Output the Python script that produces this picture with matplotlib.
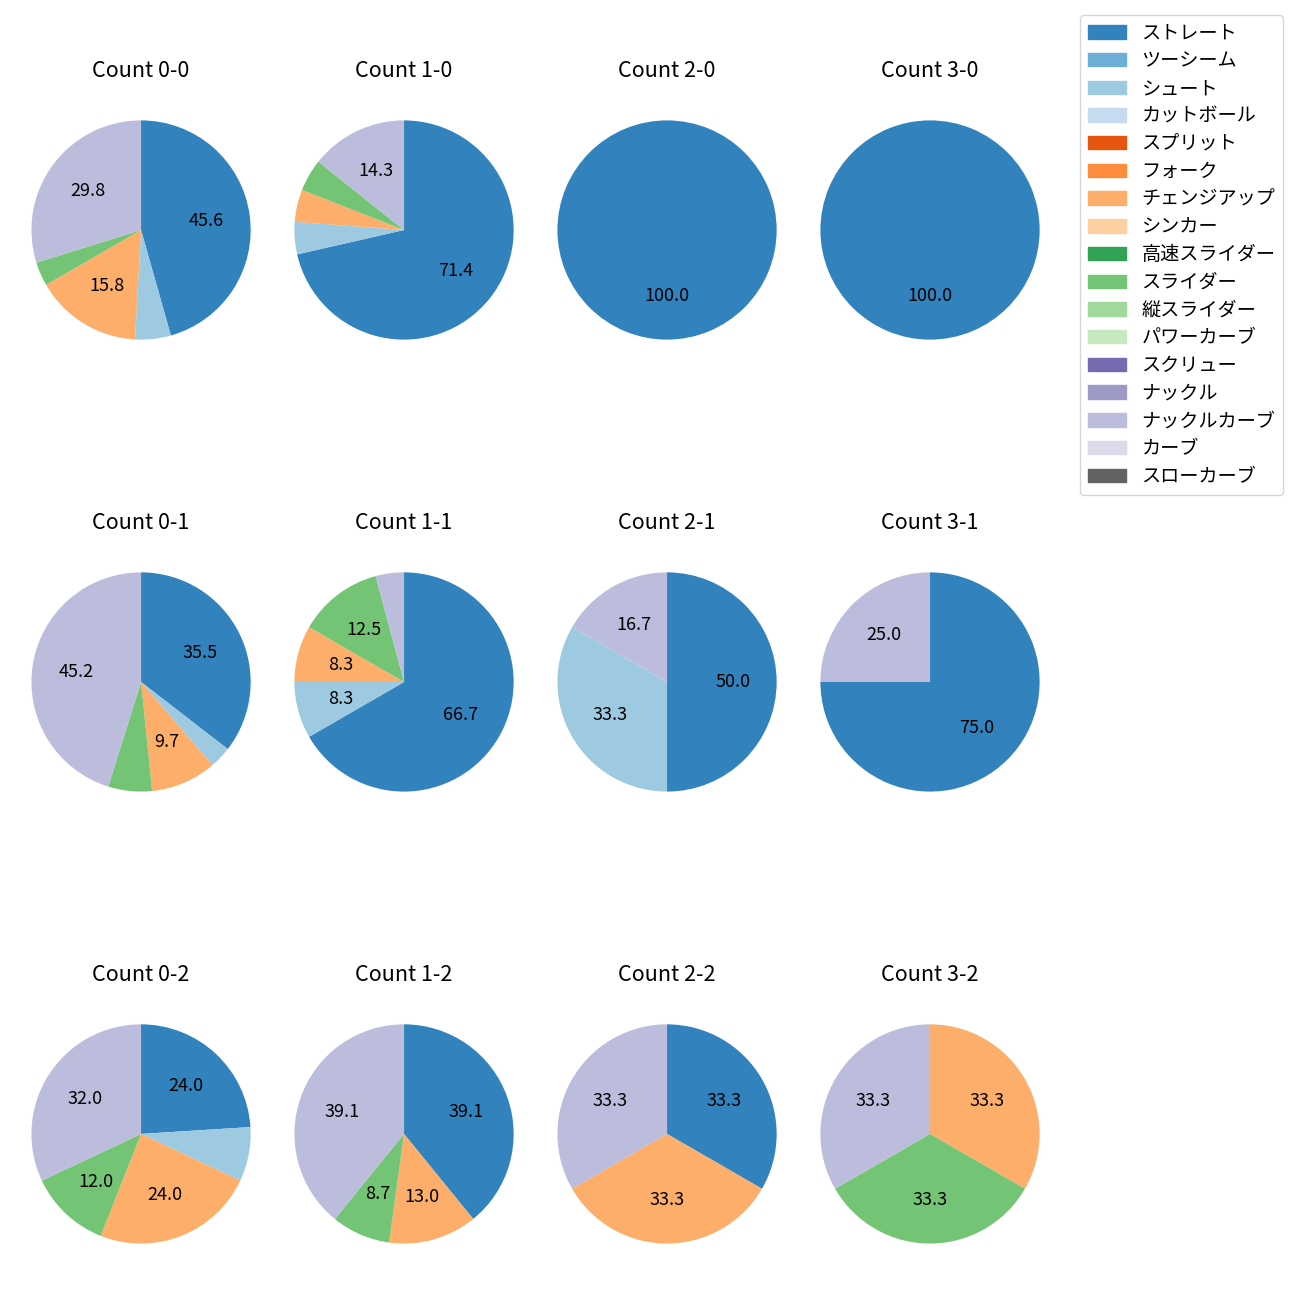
import matplotlib.pyplot as plt
from matplotlib.patches import Patch

plt.rcParams['font.family'] = ['Noto Sans CJK JP', 'DejaVu Sans']

# 球種と色 (tab20c 系)
pitch_types = ['ストレート', 'ツーシーム', 'シュート', 'カットボール', 'スプリット', 'フォーク',
               'チェンジアップ', 'シンカー', '高速スライダー', 'スライダー', '縦スライダー',
               'パワーカーブ', 'スクリュー', 'ナックル', 'ナックルカーブ', 'カーブ', 'スローカーブ']
pitch_colors = ['#3182bd', '#6baed6', '#9ecae1', '#c6dbef', '#e6550d', '#fd8d3c',
                '#fdae6b', '#fdd0a2', '#31a354', '#74c476', '#a1d99b', '#c7e9c0',
                '#756bb1', '#9e9ac8', '#bcbddc', '#dadaeb', '#636363']

# カウント別の投球数 (球種名: 球数)
count_labels = ['0-0', '1-0', '2-0', '3-0',
                '0-1', '1-1', '2-1', '3-1',
                '0-2', '1-2', '2-2', '3-2']
count_00 = {'ストレート': 26, 'シュート': 3, 'チェンジアップ': 9, 'スライダー': 2, 'ナックルカーブ': 17}
count_10 = {'ストレート': 15, 'シュート': 1, 'チェンジアップ': 1, 'スライダー': 1, 'ナックルカーブ': 3}
count_20 = {'ストレート': 3}
count_30 = {'ストレート': 2}
count_01 = {'ストレート': 11, 'シュート': 1, 'チェンジアップ': 3, 'スライダー': 2, 'ナックルカーブ': 14}
count_11 = {'ストレート': 16, 'シュート': 2, 'チェンジアップ': 2, 'スライダー': 3, 'ナックルカーブ': 1}
count_21 = {'ストレート': 3, 'シュート': 2, 'ナックルカーブ': 1}
count_31 = {'ストレート': 3, 'ナックルカーブ': 1}
count_02 = {'ストレート': 6, 'シュート': 2, 'チェンジアップ': 6, 'スライダー': 3, 'ナックルカーブ': 8}
count_12 = {'ストレート': 9, 'チェンジアップ': 3, 'スライダー': 2, 'ナックルカーブ': 9}
count_22 = {'ストレート': 1, 'チェンジアップ': 1, 'ナックルカーブ': 1}
count_32 = {'チェンジアップ': 1, 'スライダー': 1, 'ナックルカーブ': 1}
count_data = [count_00, count_10, count_20, count_30,
              count_01, count_11, count_21, count_31,
              count_02, count_12, count_22, count_32]

color_map = dict(zip(pitch_types, pitch_colors))


def pct_label(pct):
    return f'{pct:.1f}' if pct > 8.1 else ''


fig, axes = plt.subplots(3, 4, figsize=(13, 13), dpi=100)
fig.subplots_adjust(left=0.0081, right=0.8158, bottom=0.0162, top=0.9346,
                    wspace=0.0075, hspace=0.5586)

for ax, label, data in zip(axes.flat, count_labels, count_data):
    names = list(data.keys())
    values = list(data.values())
    ax.pie(values, colors=[color_map[n] for n in names], startangle=90,
           counterclock=False, autopct=pct_label, radius=0.945,
           textprops={'fontsize': 13})
    ax.set_aspect('equal', adjustable='datalim')
    ax.set_title(f'Count {label}', fontsize=15.5)

handles = [Patch(color=c, label=n) for n, c in zip(pitch_types, pitch_colors)]
fig.legend(handles=handles, loc='upper right', bbox_to_anchor=(0.987, 0.9885),
           fontsize=13.8, labelspacing=0.35, borderaxespad=0)

plt.savefig('out.png')
